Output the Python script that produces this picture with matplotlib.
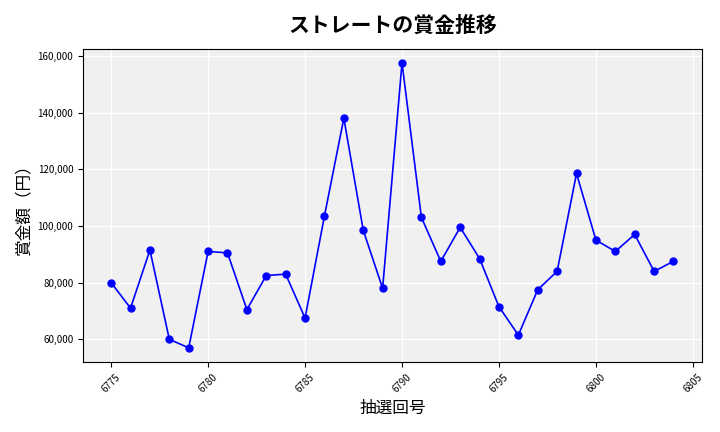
import numpy as np
import matplotlib
matplotlib.use("Agg")
import matplotlib.pyplot as plt
from matplotlib.ticker import FuncFormatter

plt.rcParams['font.family'] = ['Noto Sans CJK JP', 'DejaVu Sans']

draws = list(range(6775, 6805))
prizes = [80000, 71000, 91500, 60000, 57000, 91000, 90500, 70500, 82500, 83000,
          67500, 103500, 138000, 98500, 78000, 157500, 103000, 87500, 99500, 88500,
          71500, 61500, 77500, 84000, 118500, 95000, 91000, 97000, 84000, 87500]

fig, ax = plt.subplots(figsize=(7.2, 4.32), dpi=100)
ax.set_facecolor("#f0f0f0")
ax.plot(draws, prizes, color="blue", marker="o", markersize=5, linewidth=1.2)
ax.grid(True, color="white", linewidth=1)
ax.set_axisbelow(True)
ax.set_title("ストレートの賞金推移", fontsize=15, fontweight="bold", pad=12)
ax.set_xlabel("抽選回号", fontsize=12)
ax.set_ylabel("賞金額（円）", fontsize=12)
ax.yaxis.set_major_formatter(FuncFormatter(lambda v, p: f"{v:,.0f}"))
ax.tick_params(axis="x", labelrotation=45, labelsize=7)
ax.tick_params(axis="y", labelsize=7)
fig.tight_layout()
fig.savefig("out.png")
